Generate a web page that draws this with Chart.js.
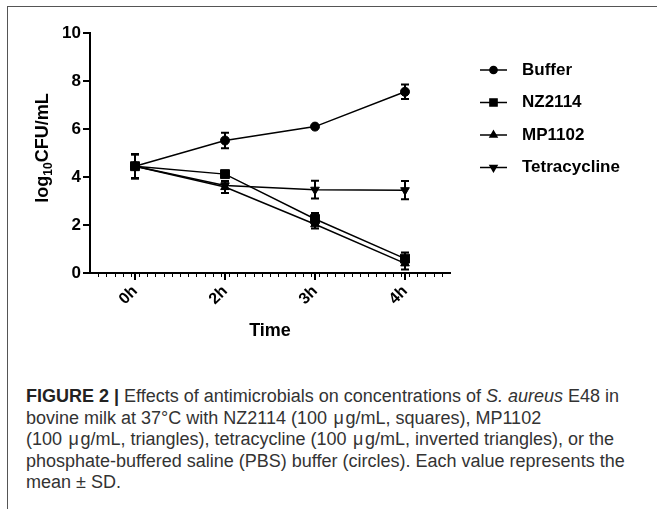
<!DOCTYPE html>
<html lang="en">
<head>
<meta charset="UTF-8" />
<title>Figure 2</title>
<script src="https://cdn.jsdelivr.net/npm/chart.js"></script>
<style>
  body { margin: 0; background: #fff; font-family: "Liberation Sans", Arial, sans-serif; }
  #wrap { position: relative; width: 657px; height: 509px; overflow: hidden; }
  #frame { position: absolute; left: 7px; top: 6px; width: 660px; height: 520px;
           border-top: 1.5px solid #555; border-left: 1.5px solid #555; }
  #chart { position: absolute; left: 0; top: 0; }
  #caption { position: absolute; left: 26px; top: 386px; font-size: 18px; line-height: 21.5px;
             color: #333; white-space: nowrap; }
  #caption b { color: #222; }
  .mu { padding: 0 1.5px; }
</style>
</head>
<body>
<div id="wrap">
  <div id="frame"></div>
  <canvas id="chart" width="657" height="350"></canvas>
  <div id="caption">
    <b>FIGURE 2 |</b> Effects of antimicrobials on concentrations of <i>S. aureus</i> E48 in<br>
    bovine milk at 37°C with NZ2114 (100 <span class="mu">μ</span>g/mL, squares), MP1102<br>
    (100 <span class="mu">μ</span>g/mL, triangles), tetracycline (100 <span class="mu">μ</span>g/mL, inverted triangles), or the<br>
    phosphate-buffered saline (PBS) buffer (circles). Each value represents the<br>
    mean ± SD.
  </div>
</div>

<script>
// data
const times = ['0h', '2h', '3h', '4h'];
const buffer = [4.45, 5.52, 6.1, 7.55];
const bufferSd = [0.5, 0.32, 0.05, 0.3];
const nz2114 = [4.45, 4.12, 2.25, 0.6];
const nz2114Sd = [0.5, 0.12, 0.25, 0.25];
const mp1102 = [4.45, 3.58, 2.03, 0.4];
const mp1102Sd = [0.5, 0.25, 0.18, 0.25];
const tetracycline = [4.45, 3.65, 3.47, 3.45];
const tetracyclineSd = [0.5, 0.15, 0.37, 0.38];

const FONT = '"Liberation Sans", Arial, sans-serif';

function series(label, data, sd, style, rotation, order, radius) {
    return {
        label, data, sd, order,
        borderColor: '#000', backgroundColor: '#000',
        borderWidth: 1.5, tension: 0, fill: false,
        pointStyle: style, pointRotation: rotation,
        pointRadius: radius, pointBorderWidth: 1, pointHoverRadius: radius
    };
}

// vertical error bars with caps
const errorBars = {
    id: 'errorBars',
    afterDatasetsDraw(chart) {
        const ctx = chart.ctx, y = chart.scales.y;
        ctx.save();
        ctx.strokeStyle = '#000';
        ctx.lineWidth = 2;
        chart.data.datasets.forEach((ds, d) => {
            const meta = chart.getDatasetMeta(d);
            meta.data.forEach((pt, i) => {
                const top = y.getPixelForValue(ds.data[i] + ds.sd[i]);
                const bot = y.getPixelForValue(ds.data[i] - ds.sd[i]);
                ctx.beginPath();
                ctx.moveTo(pt.x, top); ctx.lineTo(pt.x, bot);
                ctx.moveTo(pt.x - 4, top); ctx.lineTo(pt.x + 4, top);
                ctx.moveTo(pt.x - 4, bot); ctx.lineTo(pt.x + 4, bot);
                ctx.stroke();
            });
        });
        ctx.restore();
    }
};

// minor ticks under the x axis, y title with subscript, legend on the right
const extras = {
    id: 'extras',
    afterDraw(chart) {
        const ctx = chart.ctx, area = chart.chartArea, x = chart.scales.x;
        ctx.save();
        ctx.strokeStyle = '#000';
        ctx.lineWidth = 1;
        const step = (x.getPixelForValue(1) - x.getPixelForValue(0)) / 11;
        ctx.beginPath();
        for (let px = area.left + step; px < area.right; px += step) {
            ctx.moveTo(Math.round(px) + 0.5, area.bottom);
            ctx.lineTo(Math.round(px) + 0.5, area.bottom + 4);
        }
        ctx.stroke();

        // y title
        ctx.save();
        ctx.translate(43, 148);
        ctx.rotate(-Math.PI / 2);
        ctx.fillStyle = '#000';
        ctx.textBaseline = 'middle';
        const big = 'bold 18px ' + FONT, small = 'bold 12px ' + FONT;
        ctx.font = big; const w1 = ctx.measureText('log').width, w3 = ctx.measureText('CFU/mL').width;
        ctx.font = small; const w2 = ctx.measureText('10').width;
        let cx = -(w1 + w2 + w3) / 2;
        ctx.textAlign = 'left';
        ctx.font = big; ctx.fillText('log', cx, 0); cx += w1;
        ctx.font = small; ctx.fillText('10', cx, 6); cx += w2;
        ctx.font = big; ctx.fillText('CFU/mL', cx, 0);
        ctx.restore();

        // legend
        ctx.font = 'bold 17px ' + FONT;
        ctx.textBaseline = 'middle';
        ctx.textAlign = 'left';
        chart.data.datasets.forEach((ds, i) => {
            const ly = 70 + i * 32.5;
            ctx.strokeStyle = '#000'; ctx.fillStyle = '#000'; ctx.lineWidth = 1.5;
            ctx.beginPath(); ctx.moveTo(480, ly); ctx.lineTo(507, ly); ctx.stroke();
            Chart.helpers.drawPoint(ctx, {
                pointStyle: ds.pointStyle, rotation: ds.pointRotation,
                radius: ds.pointRadius * 0.8, borderWidth: 1
            }, 493.5, ly);
            ctx.fillText(ds.label, 522, ly);
        });
        ctx.restore();
    }
};

new Chart(document.getElementById('chart'), {
    type: 'line',
    data: {
        labels: times,
        datasets: [
            series('Buffer', buffer, bufferSd, 'circle', 0, 3, 4.5),
            series('NZ2114', nz2114, nz2114Sd, 'rect', 0, 0, 6.3),
            series('MP1102', mp1102, mp1102Sd, 'triangle', 0, 1, 5),
            series('Tetracycline', tetracycline, tetracyclineSd, 'triangle', 180, 2, 5)
        ]
    },
    options: {
        responsive: false,
        animation: false,
        devicePixelRatio: 1,
        layout: { padding: { left: 0, top: 33, right: 207, bottom: 0 } },
        plugins: { legend: { display: false }, tooltip: { enabled: false } },
        scales: {
            x: {
                offset: true,
                grid: { drawOnChartArea: false, drawTicks: true, tickLength: 7, lineWidth: 2, color: '#000', offset: false },
                border: { color: '#000', width: 2 },
                ticks: { color: '#000', font: { family: FONT, size: 16, weight: 'bold' }, minRotation: 45, maxRotation: 45, padding: 2 },
                title: { display: true, text: 'Time', color: '#000', font: { family: FONT, size: 18, weight: 'bold' }, padding: { top: 0, bottom: 8 } },
                afterFit(s) { s.height = 77; }
            },
            y: {
                min: 0, max: 10,
                grid: { drawOnChartArea: false, drawTicks: true, tickLength: 7, lineWidth: 2, color: '#000' },
                border: { color: '#000', width: 2 },
                ticks: { stepSize: 2, color: '#000', font: { family: FONT, size: 17, weight: 'bold' }, padding: 2 },
                afterFit(s) { s.width = 90; }
            }
        }
    },
    plugins: [errorBars, extras]
});
</script>
</body>
</html>
